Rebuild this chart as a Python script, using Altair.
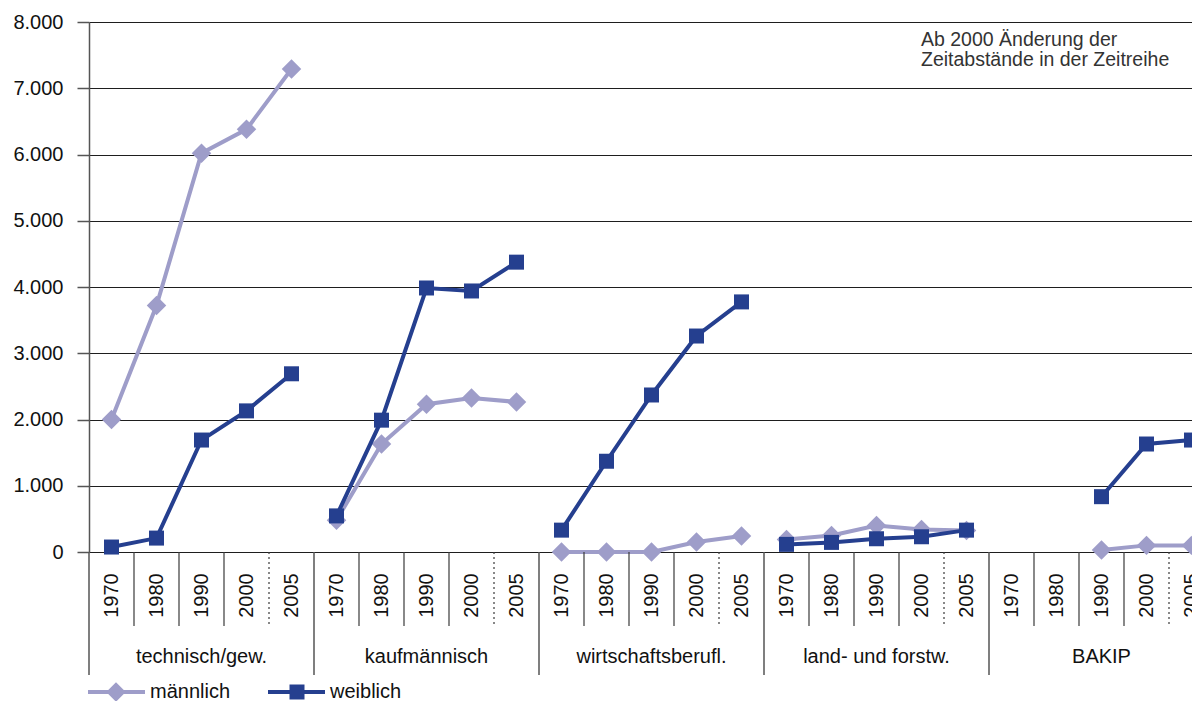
import altair as alt
import pandas as pd

# ---- data ----
groups = ["technisch/gew.", "kaufmännisch", "wirtschaftsberufl.", "land- und forstw.", "BAKIP"]
years = ["1970", "1980", "1990", "2000", "2005"]
maennlich = [
    [2000, 3720, 6020, 6380, 7290],
    [480, 1630, 2230, 2325, 2265],
    [0, 0, 0, 150, 240],
    [190, 250, 400, 340, 325],
    [None, None, 30, 100, 100],
]
weiblich = [
    [75, 210, 1690, 2130, 2690],
    [545, 1990, 3985, 3940, 4375],
    [330, 1370, 2370, 3260, 3775],
    [115, 145, 200, 230, 330],
    [None, None, 835, 1630, 1690],
]
sexes = ["männlich", "weiblich"]
colors = ["#9e9dc9", "#253f8f"]
shapes = ["diamond", "square"]
y_ticks = [0, 1000, 2000, 3000, 4000, 5000, 6000, 7000, 8000]
note_text = "Ab 2000 Änderung der\nZeitabstände in der Zeitreihe"

FONT = "Liberation Sans"
W, H = 1103, 530          # visible plot area (the last category runs off the right edge)
FULL_W = 1125             # pixel span of all 25 categories
n_years = len(years)
n_cat = len(groups) * n_years

rows = []
for gi, g in enumerate(groups):
    for yi, yr in enumerate(years):
        for s, series in zip(sexes, [maennlich, weiblich]):
            v = series[gi][yi]
            if v is not None:
                rows.append(dict(group=g, year=yr, sex=s, value=v, pos=gi * n_years + yi + 0.5))
df = pd.DataFrame(rows)

year_df = pd.DataFrame([
    dict(year=yr, pos=gi * n_years + yi + 0.5)
    for gi in range(len(groups)) for yi, yr in enumerate(years)
])
group_df = pd.DataFrame([dict(group=g, pos=gi * n_years + n_years / 2) for gi, g in enumerate(groups)])
sep_df = pd.DataFrame([
    dict(k=k, kind=("group" if k % n_years == 0 else ("dotted" if k % n_years == n_years - 1 else "year")))
    for k in range(n_cat + 1)
])

xscale = alt.Scale(domain=[0, n_cat], range=[0, FULL_W], nice=False, zero=False)
yscale = alt.Scale(domain=[0, 8000], nice=False)

x_enc = alt.X("pos:Q", scale=xscale, axis=None)
y_axis = alt.Axis(
    values=y_ticks, grid=True, gridColor="#1e1e1e", gridWidth=1,
    domainColor="#555555", domainWidth=1.5, tickColor="#555555", tickSize=12, tickWidth=1.5,
    labelFontSize=20, labelFont=FONT, labelColor="#111111", labelPadding=14,
    labelExpr="replace(format(datum.value, ',d'), ',', '.')", title=None,
)
y_enc = alt.Y("value:Q", scale=yscale, axis=y_axis)

layers = []
for i, s in enumerate(sexes):
    base = alt.Chart(df).transform_filter(alt.datum.sex == s)
    line = base.mark_line(strokeWidth=4, color=colors[i]).encode(
        x=x_enc, y=y_enc, detail="group:N",
    )
    pts = base.mark_point(filled=True, opacity=1, shape=shapes[i], size=(380 if i == 0 else 225),
                          color=colors[i]).encode(x=x_enc, y=y_enc)
    layers += [line, pts]

# category separators below the plot
seps_year = alt.Chart(sep_df).transform_filter(alt.datum.kind == "year").mark_rule(
    color="#3a3a3a", strokeWidth=1.2).encode(
    x=alt.X("k:Q", scale=xscale, axis=None), y=alt.value(H), y2=alt.value(H + 74))
seps_dot = alt.Chart(sep_df).transform_filter(alt.datum.kind == "dotted").mark_rule(
    color="#3a3a3a", strokeWidth=1.2, strokeDash=[2, 3]).encode(
    x=alt.X("k:Q", scale=xscale, axis=None), y=alt.value(H), y2=alt.value(H + 74))
seps_group = alt.Chart(sep_df).transform_filter(alt.datum.kind == "group").mark_rule(
    color="#555555", strokeWidth=1.5).encode(
    x=alt.X("k:Q", scale=xscale, axis=None), y=alt.value(H), y2=alt.value(H + 123))

year_labels = alt.Chart(year_df).mark_text(
    angle=270, align="center", baseline="middle", fontSize=20, font=FONT, color="#111111").encode(
    x=alt.X("pos:Q", scale=xscale, axis=None), y=alt.value(H + 43.5), text="year:N")
group_labels = alt.Chart(group_df).mark_text(
    align="center", baseline="middle", fontSize=20, font=FONT, color="#111111").encode(
    x=alt.X("pos:Q", scale=xscale, axis=None), y=alt.value(H + 105), text="group:N")

note = alt.Chart(pd.DataFrame({"t": [note_text]})).mark_text(
    align="left", baseline="middle", fontSize=19.5, font=FONT, color="#333333",
    lineBreak="\n", lineHeight=20).encode(
    x=alt.value(832), y=alt.value(18), text="t:N")

# manual legend
leg_layers = []
leg_x = [(-1, 56, 27, 61), (179, 236, 208, 241)]
for i, s in enumerate(sexes):
    ldf = pd.DataFrame({"label": [s]})
    x0, x1, xm, xt = leg_x[i]
    leg_layers.append(alt.Chart(ldf).mark_rule(strokeWidth=4, color=colors[i]).encode(
        x=alt.value(x0), x2=alt.value(x1), y=alt.value(H + 140)))
    leg_layers.append(alt.Chart(ldf).mark_point(filled=True, opacity=1, shape=shapes[i],
                                                size=(380 if i == 0 else 225), color=colors[i]).encode(
        x=alt.value(xm), y=alt.value(H + 140)))
    leg_layers.append(alt.Chart(ldf).mark_text(align="left", baseline="middle", fontSize=20,
                                               font=FONT, color="#111111").encode(
        x=alt.value(xt), y=alt.value(H + 140), text="label:N"))

chart = alt.layer(
    *layers, seps_year, seps_dot, seps_group, year_labels, group_labels, note, *leg_layers
).properties(
    width=W, height=H,
    padding={"left": 81, "top": 14, "right": 0, "bottom": 155},
    autosize=alt.AutoSizeParams(type="none"),
).configure_view(stroke=None).configure(background="white")

chart.save("out.html", embed_options={"renderer": "svg", "actions": False})
